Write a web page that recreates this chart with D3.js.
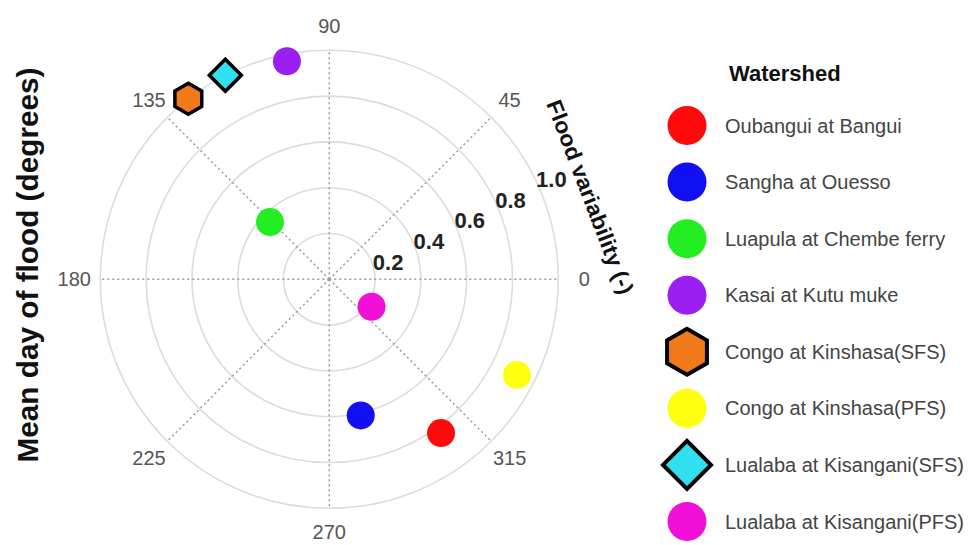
<!DOCTYPE html>
<html>
<head>
<meta charset="utf-8">
<script src="https://cdn.jsdelivr.net/npm/d3@7"></script>
<style>
  html, body { margin: 0; padding: 0; background: #fff; }
  svg { display: block; font-family: "Liberation Sans", Arial, sans-serif; }
</style>
</head>
<body>
<svg id="chart" width="970" height="545"></svg>
<script>
// ---- Data ----
const watersheds = [
  "Oubangui at Bangui",
  "Sangha at Ouesso",
  "Luapula at Chembe ferry",
  "Kasai at Kutu muke",
  "Congo at Kinshasa(SFS)",
  "Congo at Kinshasa(PFS)",
  "Lualaba at Kisangani(SFS)",
  "Lualaba at Kisangani(PFS)"
];
const meanDay = [306, 283, 136, 101, 128, 333, 117, 327];          // degrees
const variability = [0.83, 0.61, 0.36, 0.97, 1.0, 0.92, 1.0, 0.22]; // (-)
const colors = ["#ff0a0a", "#1010f0", "#22ee22", "#9a1ff0", "#f07a1a", "#ffff10", "#30e0ee", "#f010d8"];
const shapes = ["circle", "circle", "circle", "circle", "hexagon", "circle", "diamond", "circle"];
const angleTicks = [0, 45, 90, 135, 180, 225, 270, 315];
const radialTicks = [0.2, 0.4, 0.6, 0.8, 1.0];

// ---- Layout ----
const svg = d3.select("#chart");
const cx = 329.3, cy = 279.3, R = 229;
const r = d3.scaleLinear().domain([0, 1]).range([0, R]);
const ang = d3.scaleLinear().domain([0, 360]).range([0, 2 * Math.PI]);
const px = (deg, v) => cx + r(v) * Math.cos(ang(deg));
const py = (deg, v) => cy - r(v) * Math.sin(ang(deg));

const g = svg.append("g");

// rings
g.selectAll("circle.ring").data(radialTicks).join("circle")
  .attr("class", "ring")
  .attr("cx", cx).attr("cy", cy)
  .attr("r", d => r(d))
  .attr("fill", "none").attr("stroke", "#dcdcdc").attr("stroke-width", 1.6);

// spokes
g.selectAll("line.spoke").data(angleTicks).join("line")
  .attr("class", "spoke")
  .attr("x1", cx).attr("y1", cy)
  .attr("x2", d => px(d, 1)).attr("y2", d => py(d, 1))
  .attr("stroke", "#9a9a9a").attr("stroke-width", 1.5)
  .attr("stroke-dasharray", "2,3");

// angle labels
g.selectAll("text.ang").data(angleTicks).join("text")
  .attr("class", "ang")
  .attr("x", d => cx + 255 * Math.cos(ang(d)))
  .attr("y", d => cy - 253 * Math.sin(ang(d)))
  .attr("text-anchor", "middle").attr("dominant-baseline", "central")
  .attr("font-size", 20).attr("fill", "#555")
  .text(d => d);

// radial labels
const la = 27 * Math.PI / 180;
g.selectAll("text.rad").data(radialTicks).join("text")
  .attr("class", "rad")
  .attr("x", d => cx + r(d) * Math.cos(la) + 18)
  .attr("y", d => cy - r(d) * Math.sin(la) + 4)
  .attr("text-anchor", "middle").attr("dominant-baseline", "central")
  .attr("font-size", 22).attr("font-weight", "bold").attr("fill", "#222")
  .text(d => d.toFixed(1));

// axis titles
svg.append("text")
  .attr("transform", `translate(38,265) rotate(-90)`)
  .attr("text-anchor", "middle")
  .attr("font-size", 30).attr("font-weight", "bold").attr("fill", "#111")
  .attr("textLength", 395).attr("lengthAdjust", "spacingAndGlyphs")
  .text("Mean day of flood (degrees)");

svg.append("text")
  .attr("transform", `translate(590,197) rotate(69)`)
  .attr("text-anchor", "middle").attr("dominant-baseline", "central")
  .attr("font-size", 22).attr("font-weight", "bold").attr("fill", "#111")
  .attr("textLength", 206).attr("lengthAdjust", "spacingAndGlyphs")
  .text("Flood variability (-)");

// marker path builders
function hexPath(x, y, s) {
  const pts = d3.range(6).map(i => {
    const a = Math.PI / 2 + i * Math.PI / 3;
    return [x + s * Math.cos(a), y - s * Math.sin(a)];
  });
  return d3.line()(pts) + "Z";
}
function diamondPath(x, y, s) {
  return d3.line()([[x, y - s], [x + s, y], [x, y + s], [x - s, y]]) + "Z";
}
function drawMarker(sel, shape, x, y, col, size) {
  if (shape === "circle") {
    sel.append("circle").attr("cx", x).attr("cy", y).attr("r", size.c).attr("fill", col);
  } else if (shape === "hexagon") {
    sel.append("path").attr("d", hexPath(x, y, size.h)).attr("fill", col)
      .attr("stroke", "#000").attr("stroke-width", size.sw).attr("stroke-linejoin", "miter");
  } else {
    sel.append("path").attr("d", diamondPath(x, y, size.d)).attr("fill", col)
      .attr("stroke", "#000").attr("stroke-width", size.sw).attr("stroke-linejoin", "miter");
  }
}

// points
const pts = g.append("g");
watersheds.forEach((w, i) => {
  drawMarker(pts, shapes[i], px(meanDay[i], variability[i]), py(meanDay[i], variability[i]),
    colors[i], { c: 14, h: 15.5, d: 16, sw: 3.5 });
});

// legend
const lg = svg.append("g");
lg.append("text").attr("x", 729).attr("y", 73)
  .attr("dominant-baseline", "central")
  .attr("font-size", 22).attr("font-weight", "bold").attr("fill", "#111")
  .text("Watershed");
const ly = d3.scaleLinear().domain([0, watersheds.length - 1]).range([125.5, 521.5]);
watersheds.forEach((w, i) => {
  drawMarker(lg, shapes[i], 687, ly(i), colors[i], { c: 19.5, h: 23, d: 24, sw: 4 });
  lg.append("text").attr("x", 725).attr("y", ly(i))
    .attr("dominant-baseline", "central")
    .attr("font-size", 20).attr("fill", "#444")
    .text(w);
});
</script>
</body>
</html>
